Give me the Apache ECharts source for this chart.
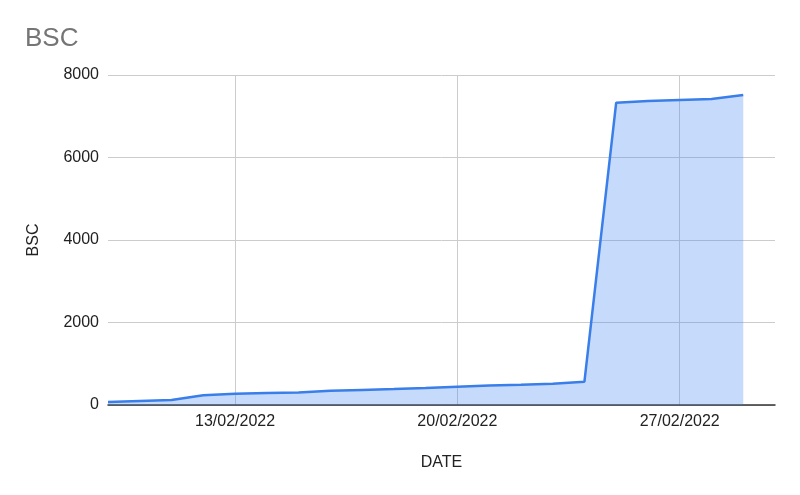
<!DOCTYPE html>
<html>
<head>
<meta charset="utf-8">
<script src="https://cdn.jsdelivr.net/npm/echarts@6/dist/echarts.min.js"></script>
<style>
html,body{margin:0;padding:0;background:#fff;}
#chart{width:800px;height:495px;}
</style>
</head>
<body>
<div id="chart"></div>
<script>
var dates = ['09/02/2022','10/02/2022','11/02/2022','12/02/2022','13/02/2022','14/02/2022','15/02/2022',
  '16/02/2022','17/02/2022','18/02/2022','19/02/2022','20/02/2022','21/02/2022','22/02/2022',
  '23/02/2022','24/02/2022','25/02/2022','26/02/2022','27/02/2022','28/02/2022','01/03/2022','02/03/2022'];
var bscValues = [70, 95, 120, 235, 270, 290, 305, 345, 365, 385, 410, 440, 470, 490, 515, 565,
  7330, 7370, 7395, 7420, 7515, null];
var shownDates = ['13/02/2022','20/02/2022','27/02/2022'];
var yTicks = [0, 2000, 4000, 6000, 8000];

var FONT = 'Liberation Sans, Arial, sans-serif';
var chart = echarts.init(document.getElementById('chart'));
chart.setOption({
  animation: false,
  backgroundColor: '#ffffff',
  title: {
    text: 'BSC',
    left: 20,
    top: 21,
    textStyle: {fontFamily: FONT, fontSize: 26, fontWeight: 'normal', color: '#757575'}
  },
  grid: {left: 108, right: 25, top: 75, bottom: 90, containLabel: false},
  xAxis: {
    type: 'category',
    data: dates,
    boundaryGap: false,
    name: 'DATE',
    nameLocation: 'middle',
    nameGap: 50,
    nameTextStyle: {fontFamily: FONT, fontSize: 16, color: '#222222'},
    axisLine: {show: true, lineStyle: {color: '#333333', width: 1.5}},
    axisTick: {show: false},
    axisLabel: {
      interval: function (i, v) { return shownDates.indexOf(v) >= 0; },
      margin: 9,
      fontFamily: FONT, fontSize: 16, color: '#222222'
    },
    splitLine: {
      show: true,
      interval: function (i, v) { return shownDates.indexOf(v) >= 0; },
      lineStyle: {color: '#cccccc', width: 1}
    }
  },
  yAxis: {
    type: 'value',
    min: yTicks[0],
    max: yTicks[yTicks.length - 1],
    interval: yTicks[1] - yTicks[0],
    name: 'BSC',
    nameLocation: 'middle',
    nameRotate: 90,
    nameGap: 66,
    nameTextStyle: {fontFamily: FONT, fontSize: 16, color: '#222222'},
    axisLine: {show: false},
    axisTick: {show: false},
    axisLabel: {
      margin: 9, fontFamily: FONT, fontSize: 16, color: '#222222',
      formatter: function (v) { return String(v); }
    },
    splitLine: {show: true, lineStyle: {color: '#cccccc', width: 1}}
  },
  series: [{
    type: 'line',
    data: bscValues,
    showSymbol: false,
    symbol: 'none',
    lineStyle: {color: '#3a7ee9', width: 2.5},
    itemStyle: {color: '#3a7ee9'},
    areaStyle: {color: '#4285f4', opacity: 0.3}
  }]
});
</script>
</body>
</html>
